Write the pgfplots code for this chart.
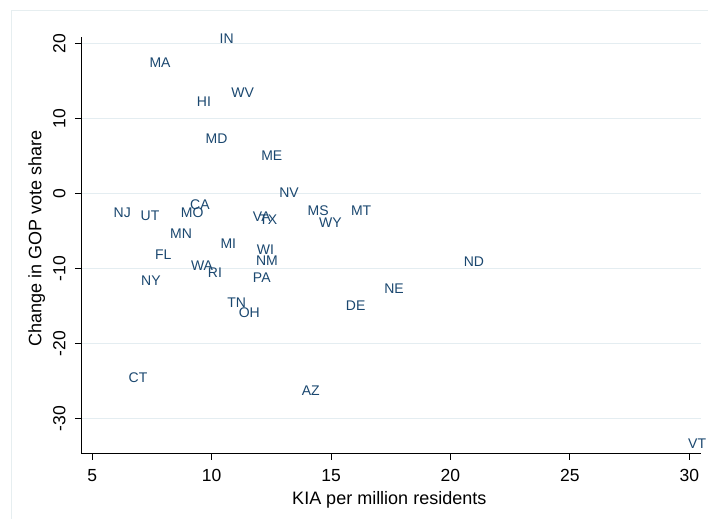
\documentclass[border=0pt]{standalone}
\usepackage{pgfplots}
\pgfplotsset{compat=1.18}
\usepackage{pgfplotstable}
\usepackage{fontspec}
\setmainfont{Liberation Sans}
\definecolor{statanavy}{RGB}{26,71,111}
\definecolor{gridc}{RGB}{228,237,241}
\definecolor{framec}{RGB}{230,238,240}

\pgfplotstableread{
x y label
10.63 20.72 IN
7.84 17.52 MA
11.30 13.43 WV
9.68 12.23 HI
10.21 7.39 MD
12.52 5.03 ME
13.24 0.19 NV
9.51 -1.51 CA
6.26 -2.53 NJ
7.42 -2.97 UT
9.19 -2.53 MO
12.10 -3.07 VA
12.37 -3.41 TX
14.46 -2.31 MS
16.26 -2.31 MT
14.97 -3.81 WY
8.72 -5.33 MN
10.70 -6.71 MI
12.25 -7.41 WI
7.98 -8.17 FL
12.32 -8.93 NM
9.60 -9.60 WA
10.14 -10.48 RI
12.10 -11.15 PA
7.46 -11.60 NY
11.05 -14.48 TN
11.58 -15.91 OH
16.03 -14.97 DE
17.64 -12.71 NE
20.98 -9.11 ND
14.15 -26.27 AZ
30.33 -33.28 VT
6.92 -24.57 CT
}\statedata

\begin{document}
\begin{tikzpicture}
\begin{axis}[
  scale only axis,
  width=619.7pt, height=416.3pt,
  xmin=4.544, xmax=30.49,
  ymin=-34.61, ymax=20.89,
  axis x line*=bottom, axis y line*=left,
  x axis line style={-}, y axis line style={-},
  axis line style={black, line width=0.9pt},
  xtick={5,10,...,30},
  ytick={-30,-20,...,20},
  tick align=outside,
  major tick length=6.5pt,
  tick style={black, line width=0.9pt},
  minor tick num=0,
  ymajorgrids,
  grid style={gridc, line width=1.3pt},
  ticklabel style={font=\fontsize{17.5pt}{20pt}\selectfont, text=black},
  yticklabel style={rotate=90, anchor=south, inner sep=0pt, yshift=9pt},
  xticklabel style={anchor=north, inner sep=0pt, yshift=-9.5pt},
  /pgf/number format/assume math mode=true,
  xlabel={KIA per million residents},
  ylabel={Change in GOP vote share},
  label style={font=\fontsize{18pt}{21pt}\selectfont, inner sep=0pt},
  xlabel style={at={(axis description cs:0.497,0)}, anchor=center, yshift=-46.5pt},
  ylabel style={at={(axis description cs:0,0.515)}, anchor=center, yshift=44.6pt},
  clip=false,
]
\addplot[only marks, mark=none,
  nodes near coords={\pgfplotspointmeta},
  point meta=explicit symbolic,
  every node near coord/.style={anchor=center, inner sep=0pt, text=statanavy,
    font=\fontsize{14pt}{16pt}\selectfont}]
  table[x=x, y=y, meta=label] {\statedata};
\end{axis}
\draw[framec, line width=1pt]
  ([xshift=-69.3pt,yshift=-65.7pt]current axis.south west) --
  ([xshift=-69.3pt,yshift=26pt]current axis.north west) --
  ([xshift=7pt,yshift=26pt]current axis.north east);
\pgfresetboundingbox
\path[use as bounding box]
  ([xshift=-81.3pt,yshift=-65.7pt]current axis.south west) rectangle
  ([xshift=7pt,yshift=37pt]current axis.north east);
\end{tikzpicture}
\end{document}
